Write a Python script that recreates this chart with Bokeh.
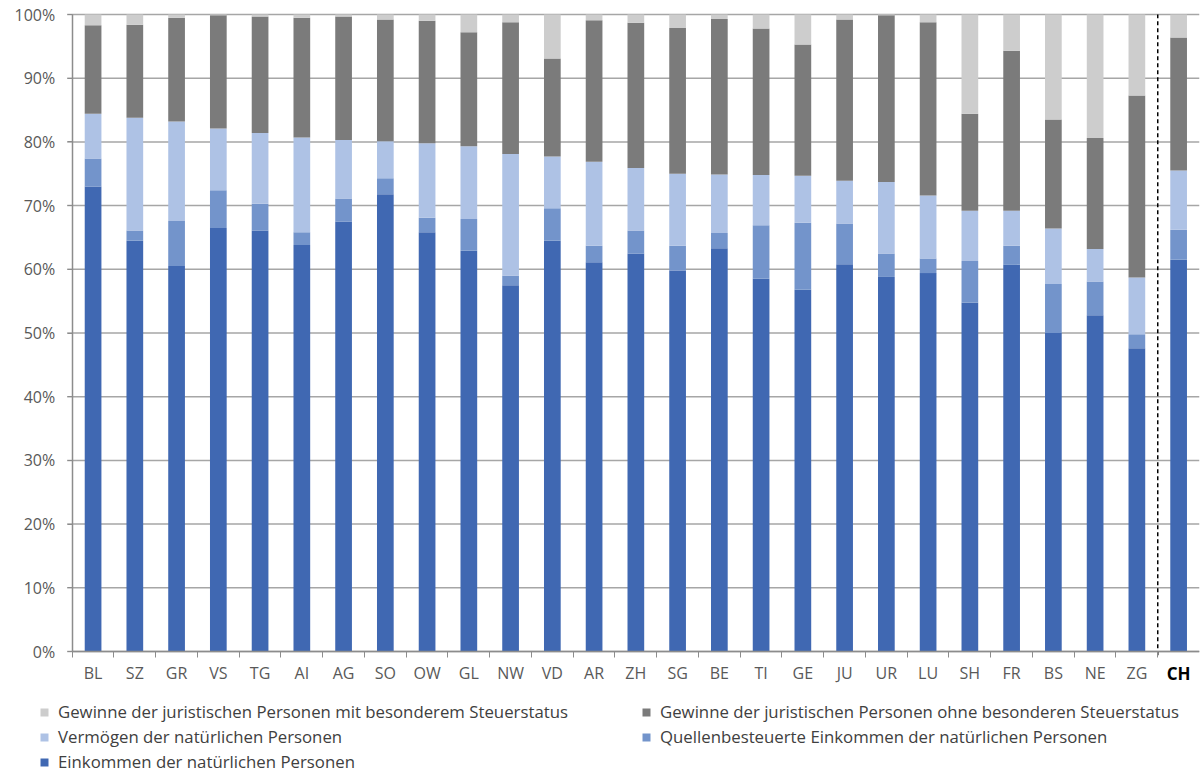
from bokeh.plotting import figure
from bokeh.models import (ColumnDataSource, Range1d, FixedTicker, CustomJSTickFormatter,
                          PrintfTickFormatter, LinearAxis, Legend, LegendItem)
from bokeh.embed import file_html
from bokeh.resources import INLINE

categories = ["BL", "SZ", "GR", "VS", "TG", "AI", "AG", "SO", "OW", "GL", "NW", "VD", "AR",
              "ZH", "SG", "BE", "TI", "GE", "JU", "UR", "LU", "SH", "FR", "BS", "NE", "ZG", "CH"]

einkommen = [73.0, 64.5, 60.5, 66.5, 66.1, 63.8, 67.5, 71.8, 65.8, 62.9, 57.5, 64.5, 61.1,
             62.5, 59.8, 63.3, 58.5, 56.8, 60.8, 58.8, 59.4, 54.8, 60.7, 50.0, 52.8, 47.6, 61.5]
quellen = [4.4, 1.6, 7.1, 5.9, 4.2, 2.0, 3.6, 2.5, 2.3, 5.0, 1.5, 5.1, 2.6,
           3.6, 3.9, 2.4, 8.4, 10.5, 6.4, 3.7, 2.3, 6.5, 3.0, 7.7, 5.3, 2.2, 4.7]
vermoegen = [7.0, 17.7, 15.6, 9.7, 11.1, 14.9, 9.2, 5.8, 11.7, 11.4, 19.1, 8.1, 13.2,
             9.8, 11.3, 9.2, 7.9, 7.4, 6.7, 11.2, 9.9, 7.9, 5.5, 8.7, 5.1, 8.9, 9.3]
gew_ohne = [13.9, 14.6, 16.3, 17.8, 18.3, 18.8, 19.4, 19.1, 19.2, 17.9, 20.7, 15.4, 22.2,
            22.8, 22.9, 24.4, 23.0, 20.6, 25.3, 26.2, 27.2, 15.2, 25.1, 17.1, 17.4, 28.6, 20.9]
gew_mit = [1.7, 1.6, 0.5, 0.1, 0.3, 0.5, 0.3, 0.8, 1.0, 2.8, 1.2, 6.9, 0.9,
           1.3, 2.1, 0.7, 2.2, 4.7, 0.8, 0.1, 1.2, 15.6, 5.7, 16.5, 19.4, 12.7, 3.6]

series_names = ["einkommen", "quellen", "vermoegen", "gew_ohne", "gew_mit"]
series_labels = {
    "gew_mit": "Gewinne der juristischen Personen mit besonderem Steuerstatus",
    "gew_ohne": "Gewinne der juristischen Personen ohne besonderen Steuerstatus",
    "vermoegen": "Vermögen der natürlichen Personen",
    "quellen": "Quellenbesteuerte Einkommen der natürlichen Personen",
    "einkommen": "Einkommen der natürlichen Personen",
}
colors = {
    "einkommen": "#4068B2",
    "quellen": "#7394CB",
    "vermoegen": "#AEC2E5",
    "gew_ohne": "#7B7B7B",
    "gew_mit": "#CDCDCD",
}
y_ticks = list(range(0, 101, 10))

FONT = "Open Sans"
TXT = "#595959"
AXC = "#8c8c8c"

# ---- layout (pixels) ----
W, H = 1203, 772
PLOT_L, PLOT_R, PLOT_T, PLOT_B = 71.7, 1199.0, 14.0, 651.0

n = len(categories)
xs = [i + 0.5 for i in range(n)]
px_per_x = (PLOT_R - PLOT_L) / n
px_per_y = (PLOT_B - PLOT_T) / 100.0
x_range = Range1d(-PLOT_L / px_per_x, n)
y_range = Range1d(-(H - PLOT_B) / px_per_y, 100 + PLOT_T / px_per_y)

source = ColumnDataSource(dict(x=xs, einkommen=einkommen, quellen=quellen, vermoegen=vermoegen,
                               gew_ohne=gew_ohne, gew_mit=gew_mit))

p = figure(width=W, height=H, x_range=x_range, y_range=y_range,
           output_backend="svg", toolbar_location=None, x_axis_location=None,
           y_axis_location=None, min_border=0, min_border_right=int(W - PLOT_R))
p.outline_line_color = None
p.grid.visible = False

# horizontal gridlines, starting at the y tick marks
grid_src = ColumnDataSource(dict(y=y_ticks, x0=[-5 / px_per_x] * len(y_ticks),
                                 x1=[n] * len(y_ticks)))
p.segment(x0="x0", y0="y", x1="x1", y1="y", line_color="#a6a6a6", line_width=1.5,
          source=grid_src)

renderers = p.vbar_stack(series_names, x="x", width=0.4,
                         color=[colors[s] for s in series_names],
                         line_color=None, source=source)
rmap = dict(zip(series_names, renderers))

# dashed separator before CH
p.segment(x0=[n - 1], y0=[-0.6], x1=[n - 1], y1=[100], line_color="black",
          line_dash="4 3", line_width=1.5)

# x axis (cantons)
axis_labels = categories[:-1] + [""]
xa = LinearAxis(fixed_location=0, bounds=(0, n),
                ticker=FixedTicker(ticks=xs, minor_ticks=list(range(n))),
                formatter=CustomJSTickFormatter(args=dict(labels=axis_labels),
                                                code="const i = Math.floor(tick); return (i >= 0 && i < labels.length) ? labels[i] : '';"))
xa.major_tick_out = 0
xa.major_tick_in = 0
xa.minor_tick_out = 6
xa.minor_tick_in = 0
xa.minor_tick_line_color = AXC
xa.axis_line_color = AXC
xa.axis_line_width = 1.5
xa.major_label_standoff = 4
xa.major_label_text_font = FONT
xa.major_label_text_font_size = "16px"
xa.major_label_text_color = TXT
p.add_layout(xa, "below")

# bold CH label
ch_labels = [""] * (n - 1) + [categories[-1]]
xa2 = LinearAxis(fixed_location=0, bounds=(n - 1, n), ticker=FixedTicker(ticks=[xs[-1]]),
                 formatter=CustomJSTickFormatter(args=dict(labels=ch_labels),
                                                 code="const i = Math.floor(tick); return (i >= 0 && i < labels.length) ? labels[i] : '';"))
xa2.axis_line_color = None
xa2.major_tick_line_color = None
xa2.minor_tick_line_color = None
xa2.major_tick_out = 0
xa2.major_tick_in = 0
xa2.minor_tick_out = 0
xa2.minor_tick_in = 0
xa2.major_label_standoff = 10
xa2.major_label_text_font = FONT
xa2.major_label_text_font_style = "bold"
xa2.major_label_text_font_size = "17px"
xa2.major_label_text_color = "black"
p.add_layout(xa2, "below")

# y axis
ya = LinearAxis(fixed_location=0, bounds=(0, 100), ticker=FixedTicker(ticks=y_ticks),
                formatter=PrintfTickFormatter(format="%d%%"))
ya.major_tick_out = 5
ya.major_tick_in = 0
ya.minor_tick_out = 0
ya.minor_tick_in = 0
ya.major_tick_line_color = AXC
ya.axis_line_color = AXC
ya.axis_line_width = 1.5
ya.major_label_standoff = 12
ya.major_label_text_font = FONT
ya.major_label_text_font_size = "16px"
ya.major_label_text_color = TXT
p.add_layout(ya, "left")

# legend (column-major order: left column, then right column)
legend_order = ["gew_mit", "vermoegen", "einkommen", "gew_ohne", "quellen"]
legend = Legend(items=[LegendItem(label=series_labels[s], renderers=[rmap[s]]) for s in legend_order],
                ncols=2, location=(39, -1), glyph_width=10, glyph_height=10,
                label_standoff=9, label_width=581, label_height=20, spacing=2,
                padding=0, margin=0, border_line_color=None, background_fill_alpha=0,
                label_text_font=FONT, label_text_font_size="16.8px", label_text_color="#404040")
p.add_layout(legend, "center")

open("out.html", "w").write(file_html(p, INLINE))
